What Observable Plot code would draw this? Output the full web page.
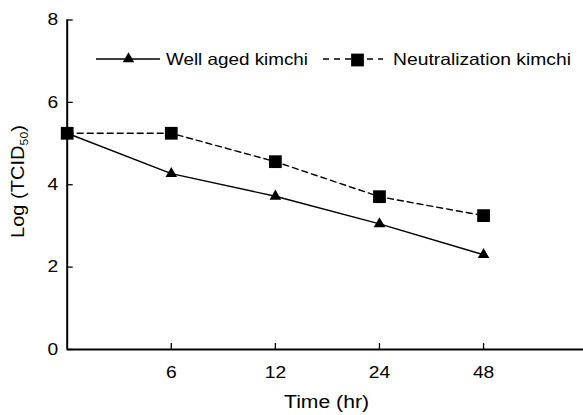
<!DOCTYPE html>
<html><head><meta charset="utf-8">
<script src="https://cdn.jsdelivr.net/npm/d3@7"></script>
<script src="https://cdn.jsdelivr.net/npm/@observablehq/plot@0.6"></script>
<style>
body{margin:0;background:#fff}
#chart{position:relative;width:583px;height:415px}
</style>
</head><body><div id="chart"></div>
<script>
// Data
const timeLabels = ["0", "6", "12", "24", "48"];
const wellAged = [5.25, 4.27, 3.72, 3.05, 2.30];
const neutralization = [5.25, 5.25, 4.56, 3.71, 3.25];
const seriesNames = ["Well aged kimchi", "Neutralization kimchi"];
const yTicks = [0, 2, 4, 6, 8];
const xTickIdx = [1, 2, 3, 4];
const xTitle = "Time (hr)";

const wellRows = timeLabels.map((t, i) => ({i, t, v: wellAged[i], s: seriesNames[0]}));
const neutRows = timeLabels.map((t, i) => ({i, t, v: neutralization[i], s: seriesNames[1]}));

const font = "'Liberation Sans', Arial, Helvetica, sans-serif";

const plot = Plot.plot({
  width: 583, height: 415,
  marginLeft: 66.7, marginRight: 0, marginTop: 19.5, marginBottom: 66,
  style: {fontFamily: font, fontSize: "16px", background: "white", color: "black"},
  x: {type: "linear", domain: [0, 4.96], axis: null},
  y: {domain: [0, 8], axis: null},
  marks: [
    Plot.axisY(yTicks, {tickSize: 0, tickPadding: 9, label: null, fontSize: 16}),
    Plot.axisX(xTickIdx, {tickSize: 0, tickPadding: 17, label: null, fontSize: 16, tickFormat: i => timeLabels[i]}),
    Plot.ruleX(xTickIdx, {x: d => d, y1: 0, y2: 0, insetTop: -6, stroke: "black", strokeWidth: 1.3}),
    Plot.ruleY(yTicks, {y: d => d, x1: 0, x2: 0, insetRight: -6, stroke: "black", strokeWidth: 1.3}),
    Plot.ruleX([0], {stroke: "black", strokeWidth: 2}),
    Plot.ruleY([0], {stroke: "black", strokeWidth: 2}),
    Plot.line(wellRows, {x: "i", y: "v", stroke: "black", strokeWidth: 1.4}),
    Plot.line(neutRows, {x: "i", y: "v", stroke: "black", strokeWidth: 1.4, strokeDasharray: "6,4"}),
    Plot.dot(wellRows, {x: "i", y: "v", symbol: "triangle", r: 4.3, fill: "black", stroke: "none"}),
    Plot.dot(neutRows, {x: "i", y: "v", symbol: "square", r: 7.2, fill: "black", stroke: "none"})
  ]
});

document.getElementById("chart").appendChild(plot);
const svg = d3.select(plot);

function stretch(el, f) {
  const len = el.getComputedTextLength();
  if (len > 0) {
    el.setAttribute("textLength", (len * f).toFixed(2));
    el.setAttribute("lengthAdjust", "spacingAndGlyphs");
  }
}
function fitTo(el, target) {
  if (el.getComputedTextLength() > 0) {
    el.setAttribute("textLength", target);
    el.setAttribute("lengthAdjust", "spacingAndGlyphs");
  }
}
svg.selectAll("text").each(function() { stretch(this, 1.2); });

// Legend
const lg = svg.append("g").attr("font-family", font).attr("font-size", 16.5)
  .attr("fill", "black").attr("text-anchor", "start");
lg.append("line").attr("x1", 96).attr("x2", 160).attr("y1", 59).attr("y2", 59)
  .attr("stroke", "black").attr("stroke-width", 1.4);
lg.append("path").attr("d", d3.symbol(d3.symbolTriangle, Math.PI * 4.3 * 4.3)())
  .attr("transform", "translate(128.5,59)").attr("fill", "black");
const t1 = lg.append("text").attr("x", 166).attr("y", 65).attr("text-anchor", "start").text(seriesNames[0]);
lg.append("line").attr("x1", 323).attr("x2", 383).attr("y1", 59).attr("y2", 59)
  .attr("stroke", "black").attr("stroke-width", 1.4).attr("stroke-dasharray", "6,5");
lg.append("path").attr("d", d3.symbol(d3.symbolSquare, Math.PI * 7.2 * 7.2)())
  .attr("transform", "translate(357.5,60)").attr("fill", "black");
const t2 = lg.append("text").attr("x", 393).attr("y", 65).attr("text-anchor", "start").text(seriesNames[1]);
fitTo(t1.node(), 142);
fitTo(t2.node(), 178);

// Axis titles
const xt = svg.append("text").attr("x", 326.5).attr("y", 408).attr("text-anchor", "middle")
  .attr("font-family", font).attr("font-size", 18).attr("fill", "black").text(xTitle);
fitTo(xt.node(), 85);

const yt = svg.append("text").attr("transform", "translate(24,181.5) rotate(-90)")
  .attr("text-anchor", "middle").attr("font-family", font).attr("font-size", 18).attr("fill", "black");
yt.append("tspan").text("Log (TCID");
yt.append("tspan").attr("font-size", 11).attr("dy", 4).text("50");
yt.append("tspan").attr("dy", -4).text(")");
fitTo(yt.node(), 113);
</script>
</body></html>
